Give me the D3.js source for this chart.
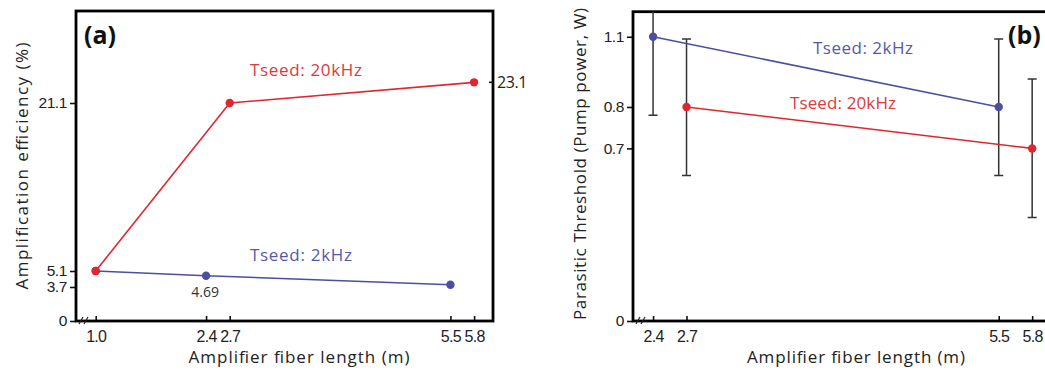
<!DOCTYPE html>
<html>
<head>
<meta charset="utf-8">
<script src="https://cdn.jsdelivr.net/npm/d3@7"></script>
<style>
  html, body { margin: 0; padding: 0; background: #fff; overflow: hidden; }
  svg { display: block; font-family: "Open Sans", "DejaVu Sans", sans-serif; }
</style>
</head>
<body>
<svg id="chart" width="1045" height="371"></svg>
<script>
// ---------- Data: panel (a) ----------
const aXTicks = [1.0, 2.4, 2.7, 5.5, 5.8];
const aYTicks = [0, 3.7, 5.1, 21.1];
const aRedX = [1.0, 2.7, 5.8];
const aRedY = [5.1, 21.1, 23.1];
const aBlueX = [1.0, 2.4, 5.5];
const aBlueY = [5.1, 4.69, 3.9];

// ---------- Data: panel (b) ----------
const bXTicks = [2.4, 2.7, 5.5, 5.8];
const bYTicks = [0, 0.7, 0.8, 1.1];
const bBlueX = [2.4, 5.5];
const bBlueY = [1.1, 0.8];
const bBlueLo = [0.78, 0.59];
const bBlueHi = [1.42, 1.09];
const bRedX = [2.7, 5.8];
const bRedY = [0.8, 0.7];
const bRedLo = [0.59, 0.42];
const bRedHi = [1.09, 0.92];

const RED = "#e0262e", BLUE = "#4a4f9f";
const RED_T = "#e0393b", BLUE_T = "#5659a8";

const svg = d3.select("#chart");
const fmt = d => d === 0 ? "0" : d3.format(".1f")(d);

function frameAxes(g, x, y, xt, yt, L, R, T, B) {
  // y axis (outward ticks)
  const ya = g.append("g").attr("transform", `translate(${L},0)`)
    .call(d3.axisLeft(y).tickValues(yt).tickFormat(fmt).tickSize(6).tickPadding(3));
  ya.select(".domain").remove();
  ya.selectAll("line").attr("stroke", "#111").attr("stroke-width", 1.6);
  ya.selectAll("text").attr("font-size", 15.5).attr("letter-spacing", "-0.4px").attr("fill", "#222");
  // x axis (inward ticks)
  const xa = g.append("g").attr("transform", `translate(0,${B})`)
    .call(d3.axisBottom(x).tickValues(xt).tickFormat(d3.format(".1f")).tickSize(-5).tickPadding(10));
  xa.select(".domain").remove();
  xa.selectAll("line").attr("stroke", "#111").attr("stroke-width", 1.6);
  xa.selectAll("text").attr("font-size", 16).attr("letter-spacing", "-0.7px").attr("fill", "#222");
  // frame
  g.append("rect").attr("x", L).attr("y", T).attr("width", R - L).attr("height", B - T)
    .attr("fill", "none").attr("stroke", "#000").attr("stroke-width", 2.8);
  // axis break marks
  [0, 5].forEach(o => {
    g.append("line").attr("x1", L + 3 + o).attr("y1", B + 3).attr("x2", L + 7 + o).attr("y2", B - 4)
      .attr("stroke", "#222").attr("stroke-width", 1.2);
  });
  return { ya, xa };
}

function series(g, x, y, xs, ys, color) {
  const pts = xs.map((v, i) => [v, ys[i]]);
  g.append("path").datum(pts)
    .attr("d", d3.line().x(d => x(d[0])).y(d => y(d[1])))
    .attr("fill", "none").attr("stroke", color).attr("stroke-width", 1.6);
  g.selectAll(null).data(pts).enter().append("circle")
    .attr("cx", d => x(d[0])).attr("cy", d => y(d[1])).attr("r", 4.2).attr("fill", color);
}

// ================= Panel (a) =================
{
  const L = 76, R = 493, T = 11, B = 321;
  const H = B - T;
  const x = d3.scaleLinear().domain([0.75, 6.04]).range([L, R]);
  // value axis as drawn in the original (tick spacing not strictly uniform)
  const y = d3.scaleLinear().domain([0, 3.7, 5.1, 21.1, 30])
    .range([B, B - 0.1097 * H, B - 0.1613 * H, B - 0.7032 * H, T]);
  const g = svg.append("g");
  frameAxes(g, x, y, aXTicks, aYTicks, L, R, T, B);
  series(g, x, y, aBlueX, aBlueY, BLUE);
  series(g, x, y, aRedX, aRedY, RED);

  // right-side label 23.1
  const last = aRedY[aRedY.length - 1];
  g.append("line").attr("x1", R - 4).attr("x2", R).attr("y1", y(last)).attr("y2", y(last))
    .attr("stroke", "#111").attr("stroke-width", 1.6);
  g.append("text").attr("x", R + 4).attr("y", y(last)).attr("dy", "0.35em")
    .attr("font-size", 16).attr("letter-spacing", "-0.4px").attr("fill", "#222").text(d3.format(".1f")(last));
  // 4.69 label
  g.append("text").attr("x", x(aBlueX[1]) - 1).attr("y", y(aBlueY[1]) + 21)
    .attr("text-anchor", "middle").attr("font-size", 14).attr("fill", "#333").text(aBlueY[1]);

  g.append("text").attr("x", 250).attr("y", 70).attr("dy", "0.35em")
    .attr("font-size", 17).attr("fill", RED_T).attr("textLength", 112).text("Tseed: 20kHz");
  g.append("text").attr("x", 250).attr("y", 255).attr("dy", "0.35em")
    .attr("font-size", 17).attr("fill", BLUE_T).attr("textLength", 102).text("Tseed: 2kHz");

  g.append("text").attr("x", 84).attr("y", 44).attr("font-size", 25).attr("font-weight", "bold")
    .attr("fill", "#111").text("(a)");

  g.append("text").attr("x", 299).attr("y", 357).attr("dy", "0.35em").attr("text-anchor", "middle")
    .attr("font-size", 17).attr("fill", "#222").attr("textLength", 221).text("Amplifier fiber length (m)");
  g.append("text").attr("transform", "translate(22,166) rotate(-90)").attr("dy", "0.35em")
    .attr("text-anchor", "middle").attr("font-size", 17).attr("fill", "#222")
    .attr("textLength", 247).text("Amplification efficiency (%)");
}

// ================= Panel (b) =================
{
  const L = 633, R = 1050, T = 11.7, B = 321;
  const H = B - T;
  const x = d3.scaleLinear().domain([2.22, 5.96]).range([L, R]);
  // broken (piecewise) value axis as in the original figure
  const y = d3.scaleLinear().domain([0, 0.7, 0.8, 1.1, 1.21])
    .range([B, B - 0.558 * H, B - 0.692 * H, B - 0.919 * H, T]);
  const g = svg.append("g");
  g.append("clipPath").attr("id", "clipB").append("rect")
    .attr("x", L).attr("y", T).attr("width", R - L).attr("height", H);
  frameAxes(g, x, y, bXTicks, bYTicks, L, R, T, B);

  const eb = g.append("g").attr("clip-path", "url(#clipB)");
  function errs(xs, lo, hi) {
    xs.forEach((v, i) => {
      const cx = x(v);
      eb.append("line").attr("x1", cx).attr("x2", cx).attr("y1", y(lo[i])).attr("y2", y(hi[i]))
        .attr("stroke", "#333").attr("stroke-width", 1.5);
      [lo[i], hi[i]].forEach(e => {
        eb.append("line").attr("x1", cx - 4.5).attr("x2", cx + 4.5).attr("y1", y(e)).attr("y2", y(e))
          .attr("stroke", "#333").attr("stroke-width", 1.5);
      });
    });
  }
  errs(bBlueX, bBlueLo, bBlueHi);
  errs(bRedX, bRedLo, bRedHi);
  series(g, x, y, bBlueX, bBlueY, BLUE);
  series(g, x, y, bRedX, bRedY, RED);

  g.append("text").attr("x", 813).attr("y", 48).attr("dy", "0.35em")
    .attr("font-size", 17).attr("fill", BLUE_T).attr("textLength", 100).text("Tseed: 2kHz");
  g.append("text").attr("x", 790).attr("y", 103).attr("dy", "0.35em")
    .attr("font-size", 17).attr("fill", RED_T).attr("textLength", 106).text("Tseed: 20kHz");

  g.append("text").attr("x", 1008).attr("y", 44).attr("font-size", 25).attr("font-weight", "bold")
    .attr("fill", "#111").text("(b)");

  g.append("text").attr("x", 856).attr("y", 357).attr("dy", "0.35em").attr("text-anchor", "middle")
    .attr("font-size", 17).attr("fill", "#222").attr("textLength", 218).text("Amplifier fiber length (m)");
  g.append("text").attr("transform", "translate(580,164) rotate(-90)").attr("dy", "0.35em")
    .attr("text-anchor", "middle").attr("font-size", 17).attr("fill", "#222")
    .attr("textLength", 312).text("Parasitic Threshold (Pump power, W)");
}
</script>
</body>
</html>
